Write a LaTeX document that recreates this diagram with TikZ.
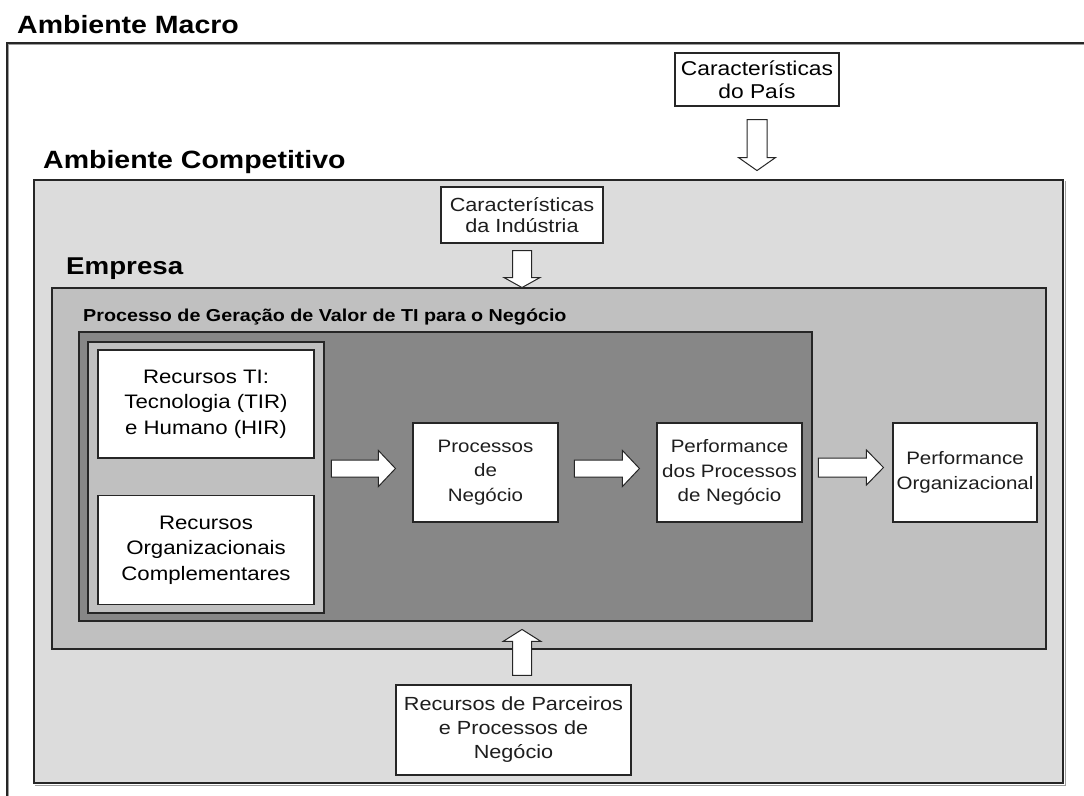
\documentclass[tikz,border=0pt]{standalone}
\usepackage{fontspec}
\setmainfont{Liberation Sans}[FakeStretch=1.14]
\usetikzlibrary{calc}

\definecolor{compbg}{HTML}{DCDCDC}
\definecolor{empbg}{HTML}{C0C0C0}
\definecolor{procbg}{HTML}{878787}
\definecolor{resbg}{HTML}{C0C0C0}
\definecolor{edge}{HTML}{262626}
\definecolor{dropgray}{HTML}{9C9C9C}
\definecolor{ink}{HTML}{1E1E1E}

\tikzset{
  region/.style={draw=edge, line width=1.3pt, inner sep=0pt},
  textbox/.style={draw=edge, line width=1.1pt, fill=white, inner sep=0pt,
    align=center, text=ink},
  titletext/.style={anchor=base west, inner sep=0pt, text=black},
  fatarrow/.style={draw=edge, line width=1pt, fill=white, line join=miter},
  dropline/.style={draw=dropgray, line width=1.2pt},
}

% block arrow: tail point, rotation, length, head length, shaft half width, head half width
\newcommand\fatarr[6]{%
  \draw[fatarrow, shift={#1}, rotate=#2]
    (0,-#5) -- ({#3-#4},-#5) -- ({#3-#4},-#6) -- (#3,0) --
    ({#3-#4},#6) -- ({#3-#4},#5) -- (0,#5) -- cycle;}

\begin{document}
\begin{tikzpicture}[x=1pt, y=-1pt]
\useasboundingbox[fill=white] (0,0) rectangle (1084,795);

% macro environment frame (open to the right and below)
\coordinate (macroTL) at (7,43);
\draw[dropline] (8.5,797) -- (8.5,44.8) -- (1086,44.8);
\draw[edge, line width=1.3pt] (7,797) -- (macroTL) -- (1086,43);
\node[titletext, font=\bfseries\fontsize{25}{30}\selectfont] (tmacro) at (17,33) {Ambiente Macro};

% competitive environment
\node[region, fill=compbg, minimum width=1029pt, minimum height=603pt] (comp) at (548.5,481.5) {};
\draw[dropline] ($(comp.north east)+(1.8,1.8)$) -- ($(comp.south east)+(1.8,1.8)$) -- ($(comp.south west)+(1.8,1.8)$);
\node[titletext, font=\bfseries\fontsize{25}{30}\selectfont] (tcomp) at (43,168) {Ambiente Competitivo};

% company
\node[region, fill=empbg, minimum width=994pt, minimum height=361pt] (emp) at (549,468.5) {};
\node[titletext, font=\bfseries\fontsize{24.3}{29}\selectfont] (temp) at (66,274) {Empresa};
\node[titletext, font=\bfseries\fontsize{17.3}{21}\selectfont] (tproc) at (83,321) {Processo de Geração de Valor de TI para o Negócio};

% value generation process
\node[region, fill=procbg, minimum width=733pt, minimum height=289pt] (proc) at (445.5,476.5) {};
\node[region, fill=resbg, minimum width=236pt, minimum height=271pt] (res) at (206,477.5) {};

% resources
\node[textbox, text=black, minimum width=216pt, minimum height=108pt,
      font=\fontsize{19.5}{25.5}\selectfont] (ti) at (206,404)
  {Recursos TI:\\Tecnologia (TIR)\\e Humano (HIR)};
\node[textbox, text=black, minimum width=216pt, minimum height=109pt,
      font=\fontsize{19.5}{25.5}\selectfont] (org) at (206,550)
  {Recursos\\Organizacionais\\Complementares};

% process chain
\node[textbox, minimum width=145pt, minimum height=99pt,
      font=\fontsize{18}{24.5}\selectfont] (pn) at (485.5,472.5)
  {Processos\\de\\Negócio};
\node[textbox, minimum width=145pt, minimum height=99pt,
      font=\fontsize{18}{24.5}\selectfont] (pp) at (729.5,472.5)
  {Performance\\dos Processos\\de Negócio};
\node[textbox, minimum width=144pt, minimum height=99pt,
      font=\fontsize{18}{24.5}\selectfont] (po) at (965,472.5)
  {Performance\\Organizacional};

% external influences
\node[textbox, text=black, minimum width=164pt, minimum height=53pt,
      font=\fontsize{20}{23}\selectfont] (pais) at (757,79.5)
  {Características\\do País};
\node[textbox, minimum width=162pt, minimum height=56pt,
      font=\fontsize{19}{21}\selectfont] (ind) at (522,215)
  {Características\\da Indústria};
\node[textbox, minimum width=235pt, minimum height=90pt,
      font=\fontsize{19}{24}\selectfont] (parc) at (513.5,730)
  {Recursos de Parceiros\\e Processos de\\Negócio};

% block arrows
\fatarr{($(pn.west)+(-81,-4)$)}{0}{64}{17}{8.5}{18}
\fatarr{($(pp.west)+(-82,-4)$)}{0}{65}{17}{8.5}{18}
\fatarr{($(po.west)+(-74,-5)$)}{0}{65}{17}{9.5}{17.5}
\fatarr{($(pais.south)+(0,13)$)}{-90}{51}{13}{10}{18.5}
\fatarr{($(ind.south)+(0,7)$)}{-90}{37}{10}{9.5}{18}
\fatarr{($(parc.north)+(8.5,-9)$)}{90}{46}{12}{9.5}{19}
\end{tikzpicture}
\end{document}
